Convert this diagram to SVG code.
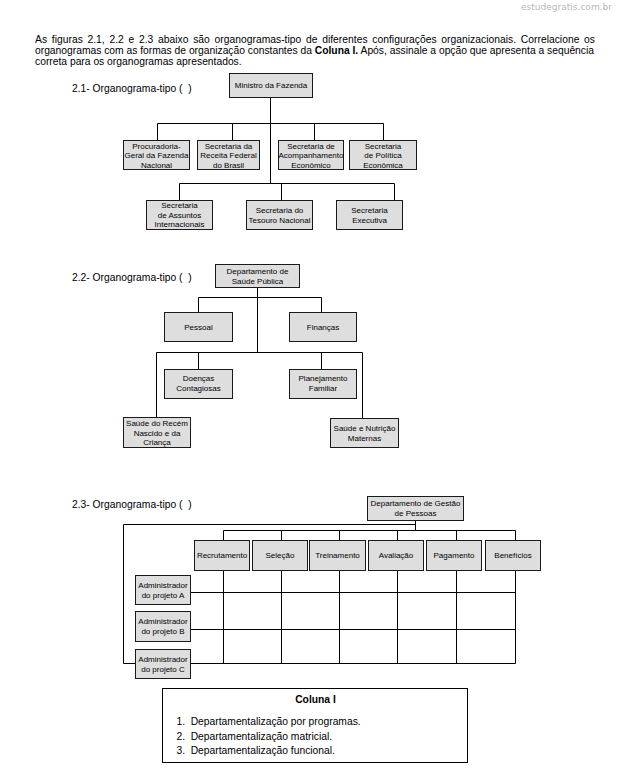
<svg xmlns="http://www.w3.org/2000/svg" width="617" height="771" viewBox="0 0 617 771">
<style>
.bx{fill:#dedede;stroke:#1a1a1a;stroke-width:1}
.t{font-family:"Liberation Sans",Arial,sans-serif;font-size:8px;fill:#000;text-anchor:middle}
.ln{fill:none;stroke:#000;stroke-width:1}
.h{font-family:"Liberation Sans",Arial,sans-serif;font-size:10.3px;fill:#000}
.wm{font-family:"DejaVu Sans",Verdana,sans-serif;font-size:8.5px;fill:#b8b8b8}
</style>
<rect width="617" height="771" fill="#fff"/>
<text class="wm" x="521" y="10" textLength="91" lengthAdjust="spacingAndGlyphs">estudegratis.com.br</text>
<g id="intro">
<text class="h" x="35" y="42.7" word-spacing="1.8" textLength="560" lengthAdjust="spacing">As figuras 2.1, 2.2 e 2.3 abaixo são organogramas-tipo de diferentes configurações organizacionais. Correlacione os</text>
<text class="h" x="35" y="53.7" textLength="559" lengthAdjust="spacing">organogramas com as formas de organização constantes da <tspan font-weight="bold">Coluna I.</tspan> Após, assinale a opção que apresenta a sequência</text>
<text class="h" x="35" y="64.7">correta para os organogramas apresentados.</text>
</g>

<!-- 2.1 -->
<text class="h" x="72" y="92">2.1- Organograma-tipo (&#160;&#160;)</text>
<g id="c21-connectors">
<path class="ln" d="M270.5,97.5V183.5 M157.5,123.5H383.5 M157.5,123.5V140.5 M232.5,123.5V140.5 M314.5,123.5V140.5 M383.5,123.5V140.5 M179.5,183.5H394.5 M179.5,183.5V200.5 M281.5,183.5V200.5 M394.5,183.5V200.5"/>
</g>
<g id="n-ministro"><rect class="bx" x="229.5" y="73.5" width="83" height="24"/><text class="t" x="271" y="88.4">Ministro da Fazenda</text></g>
<g id="n-procuradoria"><rect class="bx" x="123.5" y="140.5" width="66" height="29"/><text class="t" x="156.5" y="148.6">Procuradoria-</text><text class="t" x="156.5" y="158.1">Geral da Fazenda</text><text class="t" x="156.5" y="167.6">Nacional</text></g>
<g id="n-receita"><rect class="bx" x="197.5" y="140.5" width="62" height="29"/><text class="t" x="228.5" y="148.6">Secretaria da</text><text class="t" x="228.5" y="158.1">Receita Federal</text><text class="t" x="228.5" y="167.6">do Brasil</text></g>
<g id="n-acompanhamento"><rect class="bx" x="278.5" y="140.5" width="65" height="29"/><text class="t" x="311" y="148.6">Secretaria de</text><text class="t" x="311" y="158.1">Acompanhamento</text><text class="t" x="311" y="167.6">Econômico</text></g>
<g id="n-politica"><rect class="bx" x="349.5" y="140.5" width="67" height="29"/><text class="t" x="383" y="148.6">Secretaria</text><text class="t" x="383" y="158.1">de Política</text><text class="t" x="383" y="167.6">Econômica</text></g>
<g id="n-assuntos"><rect class="bx" x="146.5" y="200.5" width="66" height="29"/><text class="t" x="179.5" y="208.4">Secretaria</text><text class="t" x="179.5" y="217.9">de Assuntos</text><text class="t" x="179.5" y="227.2">Internacionais</text></g>
<g id="n-tesouro"><rect class="bx" x="246.5" y="200.5" width="66" height="29"/><text class="t" x="279.5" y="213.1">Secretaria do</text><text class="t" x="279.5" y="222.8">Tesouro Nacional</text></g>
<g id="n-executiva"><rect class="bx" x="336.5" y="200.5" width="66" height="29"/><text class="t" x="369.5" y="213.1">Secretaria</text><text class="t" x="369.5" y="222.8">Executiva</text></g>

<!-- 2.2 -->
<text class="h" x="72" y="281.3">2.2- Organograma-tipo (&#160;&#160;)</text>
<g id="c22-connectors">
<path class="ln" d="M257.5,287.5V352.5 M198.5,297.5H321.5 M198.5,297.5V312.5 M321.5,297.5V312.5 M156.5,352.5H362.5 M198.5,352.5V369.5 M321.5,352.5V369.5 M156.5,352.5V417.5 M362.5,352.5V418.5"/>
</g>
<g id="n-saude-publica"><rect class="bx" x="215.5" y="264.5" width="84" height="23"/><text class="t" x="257.5" y="274.1">Departamento de</text><text class="t" x="257.5" y="283.8">Saúde Pública</text></g>
<g id="n-pessoal"><rect class="bx" x="164.5" y="312.5" width="68" height="29"/><text class="t" x="198.5" y="329.9">Pessoal</text></g>
<g id="n-financas"><rect class="bx" x="289.5" y="312.5" width="67" height="29"/><text class="t" x="323" y="329.9">Finanças</text></g>
<g id="n-doencas"><rect class="bx" x="164.5" y="369.5" width="68" height="29"/><text class="t" x="198.5" y="381.4">Doenças</text><text class="t" x="198.5" y="390.9">Contagiosas</text></g>
<g id="n-planejamento"><rect class="bx" x="289.5" y="369.5" width="67" height="29"/><text class="t" x="323" y="381.4">Planejamento</text><text class="t" x="323" y="390.9">Familiar</text></g>
<g id="n-recem"><rect class="bx" x="123.5" y="417.5" width="67" height="30"/><text class="t" x="157" y="426.2">Saúde do Recém</text><text class="t" x="157" y="435.7">Nascido e da</text><text class="t" x="157" y="445.4">Criança</text></g>
<g id="n-nutricao"><rect class="bx" x="330.5" y="418.5" width="68" height="29"/><text class="t" x="364.5" y="430.9">Saúde e Nutrição</text><text class="t" x="364.5" y="440.7">Maternas</text></g>

<!-- 2.3 -->
<text class="h" x="72" y="508.3">2.3- Organograma-tipo (&#160;&#160;)</text>
<g id="c23-connectors">
<path class="ln" d="M415.5,520.5V530.5 M123.5,524.5H415.5 M123.5,524.5V663.5H515.5 M223.5,530.5H515.5V663.5 M223.5,530.5V663.5 M281.5,530.5V663.5 M339.5,530.5V663.5 M397.5,530.5V663.5 M456.5,530.5V663.5 M190.5,592.5H515.5 M190.5,629.5H515.5"/>
</g>
<g id="n-gestao"><rect class="bx" x="367.5" y="496.5" width="96" height="24"/><text class="t" x="415.5" y="506.2">Departamento de Gestão</text><text class="t" x="415.5" y="515.9">de Pessoas</text></g>
<g id="n-recrutamento"><rect class="bx" x="194.5" y="540.5" width="55" height="30"/><text class="t" x="222" y="558.4">Recrutamento</text></g>
<g id="n-selecao"><rect class="bx" x="252.5" y="540.5" width="55" height="30"/><text class="t" x="280" y="558.4">Seleção</text></g>
<g id="n-treinamento"><rect class="bx" x="309.5" y="540.5" width="56" height="30"/><text class="t" x="337.5" y="558.4">Treinamento</text></g>
<g id="n-avaliacao"><rect class="bx" x="368.5" y="540.5" width="55" height="30"/><text class="t" x="396" y="558.4">Avaliação</text></g>
<g id="n-pagamento"><rect class="bx" x="426.5" y="540.5" width="55" height="30"/><text class="t" x="454" y="558.4">Pagamento</text></g>
<g id="n-beneficios"><rect class="bx" x="485.5" y="540.5" width="55" height="30"/><text class="t" x="513" y="558.4">Benefícios</text></g>
<g id="n-adm-a"><rect class="bx" x="135.5" y="575.5" width="55" height="29"/><text class="t" x="163" y="587.9">Administrador</text><text class="t" x="163" y="597.6">do projeto A</text></g>
<g id="n-adm-b"><rect class="bx" x="135.5" y="611.5" width="55" height="30"/><text class="t" x="163" y="624.4">Administrador</text><text class="t" x="163" y="634.1">do projeto B</text></g>
<g id="n-adm-c"><rect class="bx" x="135.5" y="649.5" width="55" height="29"/><text class="t" x="163" y="661.8">Administrador</text><text class="t" x="163" y="671.5">do projeto C</text></g>

<!-- Coluna I -->
<g id="coluna-i">
<rect x="162.5" y="688.5" width="305" height="74" fill="#fff" stroke="#000" stroke-width="1"/>
<text class="h" x="315.5" y="702.7" text-anchor="middle" font-weight="bold">Coluna I</text>
<text class="h" x="176.5" y="725.3">1.</text><text class="h" x="190.7" y="725.3">Departamentalização por programas.</text>
<text class="h" x="176.5" y="739.5">2.</text><text class="h" x="190.7" y="739.5">Departamentalização matricial.</text>
<text class="h" x="176.5" y="753.8">3.</text><text class="h" x="190.7" y="753.8">Departamentalização funcional.</text>
</g>
</svg>
